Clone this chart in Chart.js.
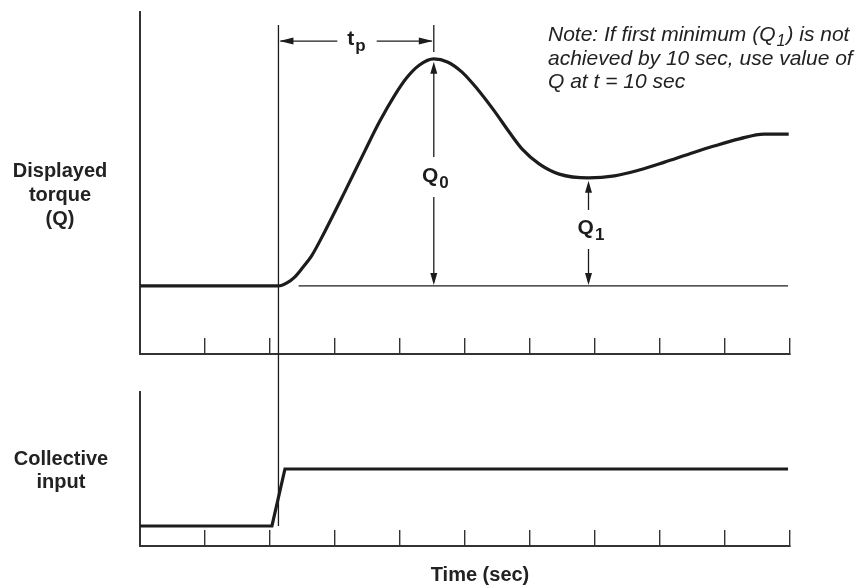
<!DOCTYPE html>
<html>
<head>
<meta charset="utf-8">
<title>Torque response</title>
<script src="https://cdn.jsdelivr.net/npm/chart.js@4/dist/chart.umd.min.js"></script>
<style>
    body { margin: 0; background: #fff; }
    #wrap { position: relative; width: 862px; height: 588px; }
    #wrap canvas { position: absolute; left: 0; top: 0; }
</style>
</head>
<body>
<div id="wrap">
    <canvas id="inputChart" width="862" height="588"></canvas>
    <canvas id="torqueChart" width="862" height="588"></canvas>
</div>
<script>
// time axis, seconds
var timeMin = 0;
var timeMax = 10;
var timeStep = 1;

// displayed torque response (top panel)
var torqueTime = [0, 2.13, 2.26, 2.38, 2.5, 2.64, 2.84, 3.15, 3.46, 3.69, 3.92, 4.1, 4.3, 4.52,
    4.73, 4.95, 5.19, 5.45, 5.68, 5.88, 6.14, 6.45, 6.9, 7.3, 7.68, 8.07, 8.45, 8.83, 9.22, 9.6, 9.98];
var torqueValue = [19.9, 19.9, 20.8, 22.5, 25.2, 28.7, 35.7, 47.4, 59.4, 68.1, 75.7, 80.7, 84.5, 86.3,
    85.4, 82.5, 77.5, 71.1, 64.9, 59.9, 55.6, 52.6, 51.5, 52.1, 53.8, 56.1, 58.5, 60.8, 62.9, 64.3, 64.3];

// thin reference line at the initial torque level
var refTime = [2.44, 9.97];
var refValue = [19.9, 19.9];

// collective input step (bottom panel)
var inputTime = [0, 2.03, 2.23, 9.97];
var inputValue = [1.3, 1.3, 5.0, 5.0];

// annotation anchors
var stepTime = 2.13;
var peakTime = 4.52, peakValue = 86.3;
var minTime = 6.9, minValue = 51.5;
var baseValue = 19.9;

function toPoints(xs, ys) {
    var pts = [];
    for (var i = 0; i < xs.length; i++) {
        pts.push({ x: xs[i], y: ys[i] });
    }
    return pts;
}

var ink = '#1c1c1c';
var axisInk = '#333';

function panelScales(yMax) {
    return {
        x: {
            type: 'linear', min: timeMin, max: timeMax,
            afterFit: function (s) { s.height = 0; },
            ticks: { display: false, stepSize: timeStep },
            grid: { drawOnChartArea: false, tickLength: -16, color: axisInk, lineWidth: 1.4 },
            border: { color: axisInk, width: 2 }
        },
        y: {
            type: 'linear', min: 0, max: yMax,
            afterFit: function (s) { s.width = 0; },
            ticks: { display: false },
            grid: { display: false },
            border: { color: axisInk, width: 2 }
        }
    };
}

function arrowHead(ctx, x, y, dir, len, half) {
    // dir: 'up','down','left','right' (tip at x,y)
    ctx.beginPath();
    ctx.moveTo(x, y);
    if (dir == 'up') { ctx.lineTo(x - half, y + len); ctx.lineTo(x + half, y + len); }
    if (dir == 'down') { ctx.lineTo(x - half, y - len); ctx.lineTo(x + half, y - len); }
    if (dir == 'left') { ctx.lineTo(x + len, y - half); ctx.lineTo(x + len, y + half); }
    if (dir == 'right') { ctx.lineTo(x - len, y - half); ctx.lineTo(x - len, y + half); }
    ctx.closePath();
    ctx.fill();
}

function line(ctx, x1, y1, x2, y2) {
    ctx.beginPath();
    ctx.moveTo(x1, y1);
    ctx.lineTo(x2, y2);
    ctx.stroke();
}

// draws main text with a subscript, centred on cx; returns [left, right]
function subLabel(ctx, main, sub, cx, baseline, size, subSize) {
    ctx.font = 'bold ' + size + 'px "Liberation Sans", Arial, sans-serif';
    var w1 = ctx.measureText(main).width;
    ctx.font = 'bold ' + subSize + 'px "Liberation Sans", Arial, sans-serif';
    var w2 = ctx.measureText(sub).width;
    var left = cx - (w1 + w2) / 2;
    ctx.textAlign = 'left';
    ctx.font = 'bold ' + size + 'px "Liberation Sans", Arial, sans-serif';
    ctx.fillText(main, left, baseline);
    ctx.font = 'bold ' + subSize + 'px "Liberation Sans", Arial, sans-serif';
    ctx.fillText(sub, left + w1 + 1, baseline + 6);
    return [left, left + w1 + w2];
}

var inputChart = new Chart(document.getElementById('inputChart'), {
    type: 'line',
    data: {
        datasets: [{
            data: toPoints(inputTime, inputValue),
            borderColor: ink, borderWidth: 3.2, pointRadius: 0, tension: 0, fill: false
        }]
    },
    options: {
        responsive: false, animation: false,
        layout: { padding: { left: 140, right: 72, top: 392, bottom: 42 } },
        plugins: { legend: { display: false }, tooltip: { enabled: false } },
        scales: panelScales(10)
    }
});

var annotations = {
    id: 'annotations',
    afterDraw: function (chart) {
        var ctx = chart.ctx;
        var xs = chart.scales.x, ys = chart.scales.y;
        var xStep = xs.getPixelForValue(stepTime);
        var xPeak = xs.getPixelForValue(peakTime);
        var xMin = xs.getPixelForValue(minTime);
        var yBase = ys.getPixelForValue(baseValue);
        var lowY = inputChart.scales.y.getPixelForValue(inputValue[0]);

        ctx.save();
        ctx.strokeStyle = ink;
        ctx.fillStyle = ink;
        ctx.lineWidth = 1.3;

        // step time marker through both panels
        line(ctx, xStep, ys.getPixelForValue(96.2), xStep, lowY);

        // t_p dimension
        var yTp = ys.getPixelForValue(91.5);
        line(ctx, xPeak, ys.getPixelForValue(96.2), xPeak, ys.getPixelForValue(88.3));
        var tp = subLabel(ctx, 't', 'p', 356, yTp + 4, 21, 17);
        line(ctx, xStep + 2, yTp, tp[0] - 10, yTp);
        line(ctx, tp[1] + 12, yTp, xPeak - 2, yTp);
        arrowHead(ctx, xStep + 1, yTp, 'left', 14, 3.5);
        arrowHead(ctx, xPeak - 1, yTp, 'right', 14, 3.5);

        // Q0
        var q0y = 178;
        var yPeak = ys.getPixelForValue(peakValue) + 3;
        subLabel(ctx, 'Q', '0', xPeak + 1, q0y + 4, 21, 17);
        line(ctx, xPeak, yPeak + 4, xPeak, q0y - 21);
        line(ctx, xPeak, q0y + 19, xPeak, yBase - 4);
        arrowHead(ctx, xPeak, yPeak, 'up', 12, 3.5);
        arrowHead(ctx, xPeak, yBase - 1, 'down', 12, 3.5);

        // Q1
        var q1y = 230;
        var yMinP = ys.getPixelForValue(minValue) + 3;
        subLabel(ctx, 'Q', '1', xMin + 2, q1y + 4, 21, 17);
        line(ctx, xMin, yMinP + 4, xMin, q1y - 20);
        line(ctx, xMin, q1y + 19, xMin, yBase - 4);
        arrowHead(ctx, xMin, yMinP, 'up', 12, 3.5);
        arrowHead(ctx, xMin, yBase - 1, 'down', 12, 3.5);

        // side labels
        ctx.fillStyle = '#222';
        ctx.textAlign = 'center';
        ctx.font = 'bold 20px "Liberation Sans", Arial, sans-serif';
        ctx.fillText('Displayed', 60, 177);
        ctx.fillText('torque', 60, 201);
        ctx.fillText('(Q)', 60, 225);
        ctx.fillText('Collective', 61, 465);
        ctx.fillText('input', 61, 488);
        ctx.fillText('Time (sec)', 480, 581);

        // note
        ctx.textAlign = 'left';
        var nx = 548;
        var f = 'italic 21px "Liberation Sans", Arial, sans-serif';
        ctx.font = f;
        var part1 = 'Note: If first minimum (Q';
        ctx.fillText(part1, nx, 41);
        var w = ctx.measureText(part1).width;
        ctx.font = 'italic 16px "Liberation Sans", Arial, sans-serif';
        ctx.fillText('1', nx + w + 1, 46);
        var ws = ctx.measureText('1').width;
        ctx.font = f;
        ctx.fillText(') is not', nx + w + ws + 2, 41);
        ctx.fillText('achieved by 10 sec, use value of', nx, 65);
        ctx.fillText('Q at t = 10 sec', nx, 88);
        ctx.restore();
    }
};

var torqueChart = new Chart(document.getElementById('torqueChart'), {
    type: 'line',
    data: {
        datasets: [{
            data: toPoints(torqueTime, torqueValue),
            borderColor: ink, borderWidth: 3.2, pointRadius: 0,
            cubicInterpolationMode: 'monotone', fill: false
        }, {
            data: toPoints(refTime, refValue),
            borderColor: ink, borderWidth: 1.3, pointRadius: 0, tension: 0, fill: false
        }]
    },
    options: {
        responsive: false, animation: false,
        layout: { padding: { left: 140, right: 72, top: 12, bottom: 234 } },
        plugins: { legend: { display: false }, tooltip: { enabled: false } },
        scales: panelScales(100)
    },
    plugins: [annotations]
});
</script>
</body>
</html>
